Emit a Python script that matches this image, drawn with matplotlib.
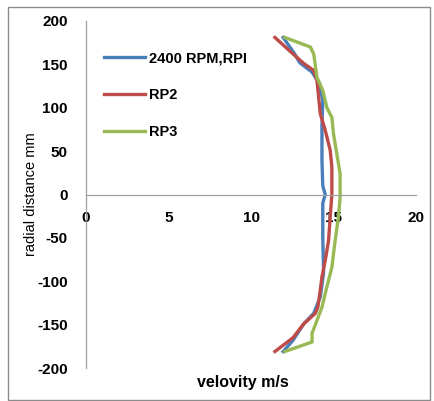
import matplotlib.pyplot as plt
from matplotlib.patches import Rectangle

# radial position (mm) and velocity (m/s)
r_rp1 = [181, 162, 152, 141, 128, 108, 80, 40, 10, 0, -10, -50, -90, -118, -137, -149, -168, -181]
v_rp1 = [11.95, 12.65, 12.95, 13.7, 14.15, 14.35, 14.3, 14.3, 14.35, 14.5, 14.35, 14.35, 14.4, 14.2, 13.8, 13.2, 12.55, 11.95]

r_rp2 = [181, 162, 151, 143, 131, 112, 93, 74, 51, 32, 0, -26, -53, -76, -95, -110, -130, -137, -149, -165, -181]
v_rp2 = [11.45, 12.55, 13.2, 13.8, 14.0, 14.1, 14.2, 14.5, 14.8, 14.9, 14.9, 14.8, 14.7, 14.5, 14.3, 14.2, 14.05, 13.9, 13.2, 12.55, 11.45]

r_rp3 = [181, 170, 162, 135, 120, 100, 89, 70, 47, 24, -3, -26, -53, -84, -99, -114, -130, -145, -160, -170, -181]
v_rp3 = [12.05, 13.6, 13.8, 14.0, 14.35, 14.6, 14.9, 15.0, 15.2, 15.4, 15.4, 15.3, 15.1, 14.9, 14.7, 14.5, 14.3, 14.0, 13.7, 13.7, 12.05]

x_ticks = [0, 5, 10, 15, 20]
y_ticks = [200, 150, 100, 50, 0, -50, -100, -150, -200]

plt.rcParams['font.family'] = ['Liberation Sans', 'DejaVu Sans']
plt.rcParams['axes.unicode_minus'] = False

fig = plt.figure(figsize=(4.34, 4.01), dpi=100)
fig.patches.append(Rectangle((8 / 434, 1 - 400 / 401), 422 / 434, 393 / 401,
                             transform=fig.transFigure, fill=False,
                             edgecolor="#8c8c8c", linewidth=1))

ax = fig.add_axes([86 / 434, 1 - 368 / 401, 330 / 434, 347 / 401])

ax.plot(v_rp1, r_rp1, color="#4a7ebb", lw=2.4, label="2400 RPM,RPI")
ax.plot(v_rp2, r_rp2, color="#be4b48", lw=2.4, label="RP2")
ax.plot(v_rp3, r_rp3, color="#98b954", lw=2.4, label="RP3")

ax.set_xlim(0, 20)
ax.set_ylim(-200, 200)
ax.set_xticks(x_ticks)
ax.set_yticks(y_ticks)

ax.spines["top"].set_visible(False)
ax.spines["right"].set_visible(False)
ax.spines["bottom"].set_position(("data", 0))
for s in ["left", "bottom"]:
    ax.spines[s].set_color("#a0a0a0")
    ax.spines[s].set_linewidth(0.9)

ax.tick_params(axis="x", length=0, pad=12, labelsize=11)
ax.tick_params(axis="y", length=0, pad=13, labelsize=11)
for lbl in ax.get_xticklabels() + ax.get_yticklabels():
    lbl.set_fontweight("bold")

ax.set_ylabel("radial distance mm", fontsize=10.5)
ax.yaxis.set_label_coords(-0.145, 0.5)
fig.text(243 / 434, 1 - 383 / 401, "velovity m/s", fontsize=11.5,
         fontweight="bold", ha="center", va="center")

ax.legend(loc="upper left", bbox_to_anchor=(0.015, 0.95), frameon=False,
          prop={"weight": "bold", "size": 10.5}, handlelength=2.8,
          handletextpad=0.3, labelspacing=1.55)

fig.savefig("out.png", dpi=100)
